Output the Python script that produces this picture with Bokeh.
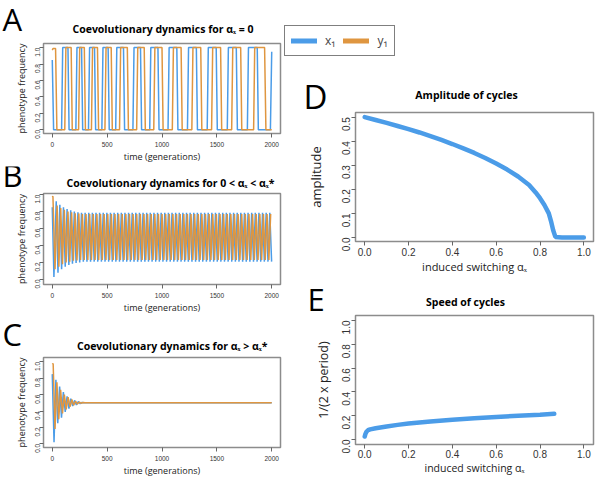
import numpy as np
from bokeh.plotting import figure
from bokeh.models import Range1d, FixedTicker, Label, Legend, LegendItem, PrintfTickFormatter
from bokeh.layouts import row, column
from bokeh.embed import file_html
from bokeh.resources import INLINE

BLUE = "#4B9CE8"
ORANGE = "#DF9640"

# ---------------- data ----------------
# Panel A (alpha_x = 0): vertices of the switching cycles
a_t_x1 = [0, 12, 85, 95, 143, 153, 215, 225, 267, 277, 330, 340, 385, 395,
          452, 462, 509, 519, 578, 588, 649, 659, 735, 745, 804, 814,
          888, 898, 963, 973, 1055, 1065, 1135, 1145, 1232, 1242, 1313, 1323,
          1412, 1422, 1494, 1504, 1595, 1605, 1677, 1687, 1778, 1788, 1868, 1878,
          1988, 2000]
a_x1 = [0.85, 0.0, 0.0, 1.0, 1.0, 0.0, 0.0, 1.0, 1.0, 0.0, 0.0, 1.0, 1.0, 0.0,
        0.0, 1.0, 1.0, 0.0, 0.0, 1.0, 1.0, 0.0, 0.0, 1.0, 1.0, 0.0,
        0.0, 1.0, 1.0, 0.0, 0.0, 1.0, 1.0, 0.0, 0.0, 1.0, 1.0, 0.0,
        0.0, 1.0, 1.0, 0.0, 0.0, 1.0, 1.0, 0.0, 0.0, 1.0, 1.0, 0.0,
        0.0, 0.95]
a_t_y1 = [0, 8, 30, 42, 114, 124, 172, 182, 240, 250, 292, 302, 357, 367, 412, 422,
          480, 490, 537, 547, 613, 623, 684, 694, 769, 779, 838, 848,
          925, 935, 1000, 1010, 1094, 1104, 1174, 1184, 1272, 1282, 1353, 1363,
          1452, 1462, 1534, 1544, 1635, 1645, 1717, 1727, 1835, 1845, 1935, 1947, 2000]
a_y1 = [0.97, 0.99, 0.99, 0.0, 0.0, 1.0, 1.0, 0.0, 0.0, 1.0, 1.0, 0.0, 0.0, 1.0, 1.0, 0.0,
        0.0, 1.0, 1.0, 0.0, 0.0, 1.0, 1.0, 0.0, 0.0, 1.0, 1.0, 0.0,
        0.0, 1.0, 1.0, 0.0, 0.0, 1.0, 1.0, 0.0, 0.0, 1.0, 1.0, 0.0,
        0.0, 1.0, 1.0, 0.0, 0.0, 1.0, 1.0, 0.0, 0.0, 1.0, 1.0, 0.0, 0.0]

# Panel B (0 < alpha_x < alpha*): transient extrema, then steady limit cycle
b_t_x1 = [0, 15, 36, 52, 69, 85, 102, 118, 135, 151, 168, 184, 201, 217, 234, 250]
b_x1 = [0.85, 0.03, 0.92, 0.08, 0.88, 0.12, 0.85, 0.15, 0.83, 0.17, 0.815, 0.185,
        0.80, 0.195, 0.79, 0.20]
b_x1_levels = [0.785, 0.21]
b_t_y1 = [0, 6, 25, 44, 60, 77, 93, 110, 126, 143, 159, 176, 192, 209, 225, 242, 258]
b_y1 = [0.97, 0.98, 0.12, 0.87, 0.15, 0.84, 0.18, 0.82, 0.20, 0.80, 0.21, 0.79,
        0.22, 0.78, 0.225, 0.775, 0.23]
b_y1_levels = [0.77, 0.23]
b_period = 33

# Panel C (alpha_x > alpha*): damped oscillation to 0.5
c_t_x1 = [0, 16, 33, 50, 67, 84, 101, 118, 135, 152, 169, 186, 203, 220, 237, 254, 271, 290, 2000]
c_x1 = [0.85, 0.02, 0.78, 0.25, 0.70, 0.32, 0.63, 0.39, 0.58, 0.43, 0.55, 0.46, 0.53,
        0.475, 0.515, 0.49, 0.505, 0.50, 0.50]
c_t_y1 = [0, 8, 25, 42, 59, 76, 93, 110, 127, 144, 161, 178, 195, 212, 229, 246, 263, 280, 300, 2000]
c_y1 = [0.97, 0.98, 0.18, 0.75, 0.30, 0.66, 0.37, 0.60, 0.42, 0.57, 0.45, 0.54, 0.47,
        0.52, 0.485, 0.51, 0.495, 0.503, 0.50, 0.50]

# Panel D: amplitude of cycles vs induced switching
d_alpha = [0.0, 0.05, 0.1, 0.15, 0.2, 0.25, 0.3, 0.35, 0.4, 0.45, 0.5, 0.55, 0.6, 0.65,
           0.7, 0.75, 0.78, 0.8, 0.82, 0.84, 0.85, 0.86, 0.87, 0.9, 0.95, 1.0]
d_amp = [0.5, 0.488, 0.476, 0.463, 0.45, 0.436, 0.421, 0.405, 0.388, 0.37, 0.351, 0.33,
         0.307, 0.282, 0.253, 0.218, 0.187, 0.163, 0.135, 0.10, 0.068, 0.03, 0.002, 0.0, 0.0, 0.0]

# Panel E: speed of cycles vs induced switching
e_alpha = [0.0, 0.003, 0.008, 0.015, 0.025, 0.05, 0.1, 0.15, 0.2, 0.3, 0.4, 0.5, 0.6,
           0.7, 0.8, 0.865]
e_speed = [0.025, 0.045, 0.065, 0.078, 0.085, 0.095, 0.11, 0.123, 0.134, 0.152, 0.166,
           0.178, 0.189, 0.199, 0.209, 0.216]

time_ticks = [0, 500, 1000, 1500, 2000]
freq_ticks = [0.0, 0.2, 0.4, 0.6, 0.8, 1.0]
alpha_ticks = [0.0, 0.2, 0.4, 0.6, 0.8, 1.0]
amp_ticks = [0.0, 0.1, 0.2, 0.3, 0.4, 0.5]

titles = {
    "A": "Coevolutionary dynamics for αₓ = 0",
    "B": "Coevolutionary dynamics for 0 < αₓ < αₓ*",
    "C": "Coevolutionary dynamics for αₓ > αₓ*",
    "D": "Amplitude of cycles",
    "E": "Speed of cycles",
}
legend_labels = ["x₁", "y₁"]


def extend_cycle(ts, vs, levels, period, t_end=2000):
    ts = list(ts); vs = list(vs)
    k = 0
    t = ts[-1] + period / 2.0
    while t <= t_end:
        ts.append(t); vs.append(levels[k % 2])
        k += 1
        t += period / 2.0
    return ts, vs


TXT = "Open Sans"
NUM = "Liberation Sans"
BASE_SHIFT = 0.42   # measured offset of the rendered baseline, in em


def no_align(p):
    try:
        p.frame_align = False
    except Exception:
        pass


def panel(w, h, bl, br, bt, bb, xr, yr):
    p = figure(width=w, height=h, x_range=Range1d(*xr), y_range=Range1d(*yr),
               output_backend="svg", toolbar_location=None,
               min_border_left=bl, min_border_right=br,
               min_border_top=bt, min_border_bottom=bb)
    p.grid.visible = False
    p.outline_line_color = "#8c8c8c"
    p.outline_line_width = 1.5
    p.background_fill_color = "white"
    p.border_fill_color = "white"
    return p


def style(p, xticks, yticks, nsize, lsize, xlabel, ylabel, xfmt=None, yfmt="%.1f",
          xls=4, yls=2, xals=0, yals=2):
    for ax in (p.xaxis[0], p.yaxis[0]):
        ax.axis_line_color = None
        ax.major_tick_line_color = "#666666"
        ax.major_tick_out = 4
        ax.major_tick_in = 0
        ax.minor_tick_line_color = None
        ax.major_label_text_font = NUM
        ax.major_label_text_font_size = nsize
        ax.major_label_text_color = "#333333"
        ax.axis_label_text_font = TXT
        ax.axis_label_text_font_style = "normal"
        ax.axis_label_text_font_size = lsize
        ax.axis_label_text_color = "#222222"
    p.xaxis[0].ticker = FixedTicker(ticks=xticks, minor_ticks=[])
    p.yaxis[0].ticker = FixedTicker(ticks=yticks, minor_ticks=[])
    if xfmt:
        p.xaxis[0].formatter = PrintfTickFormatter(format=xfmt)
    p.yaxis[0].formatter = PrintfTickFormatter(format=yfmt)
    p.yaxis[0].major_label_orientation = np.pi / 2
    p.xaxis[0].axis_label = xlabel
    p.yaxis[0].axis_label = ylabel
    p.xaxis[0].major_label_standoff = int(xls)
    p.yaxis[0].major_label_standoff = int(yls)
    p.xaxis[0].axis_label_standoff = int(xals)
    p.yaxis[0].axis_label_standoff = int(yals)


def header(x0, w, top, bottom, letter, letter_x, letter_y, title, title_x, title_y,
           letter_px=31, title_px=10.5):
    """Strip above a panel holding the panel letter and the title (page-pixel coords)."""
    p = figure(width=w, height=bottom - top, x_range=Range1d(x0, x0 + w),
               y_range=Range1d(bottom, top), output_backend="svg",
               toolbar_location=None, x_axis_location=None, y_axis_location=None,
               min_border_left=0, min_border_right=0, min_border_top=0, min_border_bottom=0)
    no_align(p)
    p.grid.visible = False
    p.outline_line_color = None
    p.background_fill_color = "white"
    p.border_fill_color = "white"
    p.add_layout(Label(x=letter_x, y=letter_y - BASE_SHIFT * letter_px, text=letter,
                       text_font=TXT, text_font_size=f"{letter_px}px", text_align="left",
                       text_baseline="alphabetic", text_color="black"))
    p.add_layout(Label(x=title_x, y=title_y - BASE_SHIFT * title_px, text=title, text_font=TXT,
                       text_font_size=f"{title_px}px", text_font_style="bold",
                       text_align="center", text_baseline="alphabetic", text_color="black"))
    return p


TRANGE = (-80, 2080)
LW = 283
RW = 313

# ---- A ----
ha = header(0, LW, 0, 42, "A", 2, 32, titles["A"], 162.5, 33.3)
pa = panel(LW, 124, 43, 3, 1, 33, TRANGE, (-0.045, 1.05))
pa.line(a_t_x1, a_x1, line_color=BLUE, line_width=1.5)
pa.line(a_t_y1, a_y1, line_color=ORANGE, line_width=1.5)
style(pa, time_ticks, freq_ticks, "6.5px", "9px", "time (generations)", "phenotype frequency")

# ---- B ----
hb = header(0, LW, 166, 192, "B", 2, 188, titles["B"], 170, 186.7)
bx_t, bx_v = extend_cycle(b_t_x1, b_x1, b_x1_levels, b_period)
by_t, by_v = extend_cycle(b_t_y1, b_y1, b_y1_levels, b_period)
pb = panel(LW, 130, 43, 3, 1, 38, TRANGE, (-0.059, 1.012))
pb.line(bx_t, bx_v, line_color=BLUE, line_width=1.5)
pb.line(by_t, by_v, line_color=ORANGE, line_width=1.5)
style(pb, time_ticks, freq_ticks, "6.5px", "9px", "time (generations)", "phenotype frequency")

# ---- C ----
hc = header(0, LW, 322, 356, "C", 2, 347, titles["C"], 171.7, 350)
pc = panel(LW, 123, 43, 3, 1, 31, TRANGE, (-0.045, 1.053))
pc.line(c_t_x1, c_x1, line_color=BLUE, line_width=1.5)
pc.line(c_t_y1, c_y1, line_color=ORANGE, line_width=1.5)
style(pc, time_ticks, freq_ticks, "6.5px", "9px", "time (generations)", "phenotype frequency")

# ---- D header with the shared legend ----
hd = header(283, RW, 0, 111, "D", 303, 110, titles["D"], 466, 98.5, letter_px=33)
r1 = hd.line([np.nan, np.nan], [np.nan, np.nan], line_color=BLUE, line_width=5, line_cap="round")
r2 = hd.line([np.nan, np.nan], [np.nan, np.nan], line_color=ORANGE, line_width=5, line_cap="round")
leg = Legend(items=[LegendItem(label=legend_labels[0], renderers=[r1]),
                    LegendItem(label=legend_labels[1], renderers=[r2])],
             orientation="horizontal", location=(1, 55), padding=6, spacing=8,
             label_standoff=8, glyph_width=26, glyph_height=15, label_height=15,
             label_width=10, label_text_font=TXT, label_text_font_size="12px", margin=0,
             border_line_color="black", border_line_width=1.3,
             background_fill_color="white", background_fill_alpha=1.0)
hd.add_layout(leg)

pd_ = panel(RW, 174, 72, 3, 1, 44, (-0.042, 1.044), (-0.017, 0.519))
pd_.line(d_alpha, d_amp, line_color=BLUE, line_width=4.5, line_cap="round")
style(pd_, alpha_ticks, amp_ticks, "10px", "13px", "induced switching αₓ", "amplitude",
      xfmt="%.1f", xls=2, yls=5, xals=0, yals=11)
pd_.xaxis[0].axis_label_text_font_size = "11px"

# ---- E ----
he = header(283, RW, 285, 314, "E", 307, 312, titles["E"], 465, 306)
pe = panel(RW, 165, 72, 3, 1, 35, (-0.042, 1.044), (-0.042, 1.042))
pe.line(e_alpha, e_speed, line_color=BLUE, line_width=4.5, line_cap="round")
style(pe, alpha_ticks, freq_ticks, "10px", "12.5px", "induced switching αₓ", "1/(2 x period)",
      xfmt="%.1f", xls=1, yls=5, xals=0, yals=4)
pe.xaxis[0].axis_label_text_font_size = "10.5px"

layout = row(column(ha, pa, hb, pb, hc, pc), column(hd, pd_, he, pe))
open("out.html", "w").write(file_html(layout, INLINE))
